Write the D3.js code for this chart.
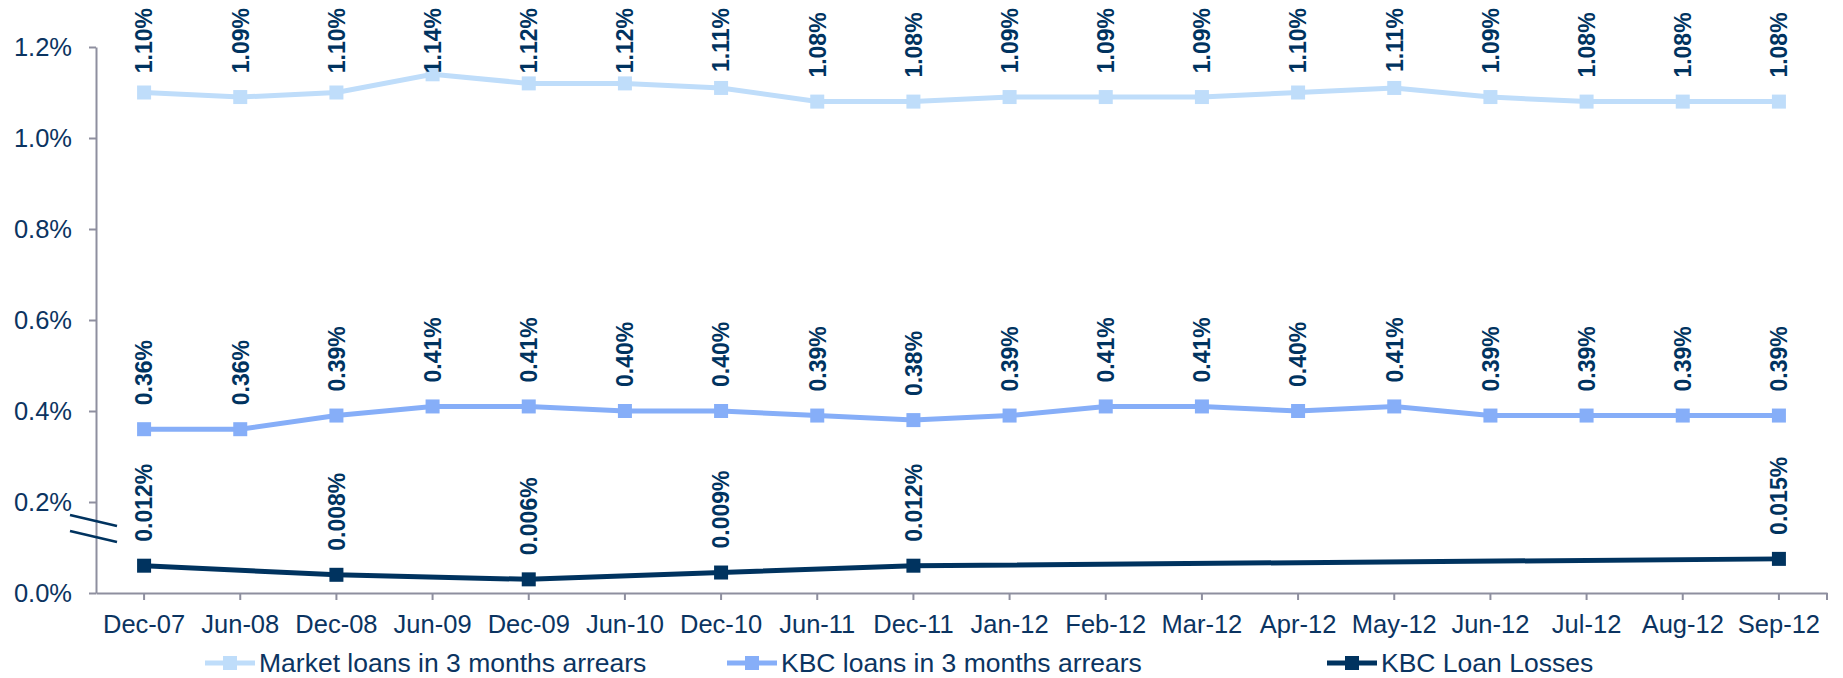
<!DOCTYPE html>
<html>
<head>
<meta charset="utf-8">
<script src="https://cdn.jsdelivr.net/npm/d3@7"></script>
<style>
  body { margin: 0; background: #fff; }
  svg { display: block; font-family: "Liberation Sans", Arial, sans-serif; }
</style>
</head>
<body>
<script>
// categories (x axis)
const months = ["Dec-07", "Jun-08", "Dec-08", "Jun-09", "Dec-09", "Jun-10", "Dec-10", "Jun-11", "Dec-11",
  "Jan-12", "Feb-12", "Mar-12", "Apr-12", "May-12", "Jun-12", "Jul-12", "Aug-12", "Sep-12"];

// series values, in %
const marketArrears = [1.10, 1.09, 1.10, 1.14, 1.12, 1.12, 1.11, 1.08, 1.08, 1.09, 1.09, 1.09, 1.10, 1.11, 1.09, 1.08, 1.08, 1.08];
const kbcArrears = [0.36, 0.36, 0.39, 0.41, 0.41, 0.40, 0.40, 0.39, 0.38, 0.39, 0.41, 0.41, 0.40, 0.41, 0.39, 0.39, 0.39, 0.39];
const kbcLosses = [0.012, null, 0.008, null, 0.006, null, 0.009, null, 0.012, null, null, null, null, null, null, null, null, 0.015];

// loan losses sit on a magnified part of the axis (below the break)
const lossMagnify = 5;

const yTicks = [0, 0.2, 0.4, 0.6, 0.8, 1.0, 1.2];

const seriesNames = ["Market loans in 3 months arrears", "KBC loans in 3 months arrears", "KBC Loan Losses"];
const seriesColors = ["#BFDDFA", "#86AEF8", "#00335F"];

function main() {
  const svgWidth = 1843, svgHeight = 678;
  const left = 96, right = 1827, top = 47, bottom = 593;
  const textColor = "#0B3461";
  const axisColor = "#8E8F9F";

  const svg = d3.select("body").append("svg")
    .attr("width", svgWidth)
    .attr("height", svgHeight);

  const x = d3.scaleBand().domain(months).range([left, right]);
  const cx = d => x(d) + x.bandwidth() / 2;
  const y = d3.scaleLinear().domain([0, 1.2]).range([bottom, top]);

  // y axis
  const yAxis = svg.append("g")
    .attr("transform", `translate(${left},0)`)
    .call(d3.axisLeft(y).tickValues(yTicks).tickFormat(d => d.toFixed(1) + "%")
      .tickSize(7).tickSizeOuter(0).tickPadding(17));
  yAxis.select(".domain").attr("stroke", axisColor).attr("stroke-width", 2);
  yAxis.selectAll(".tick line").attr("stroke", axisColor).attr("stroke-width", 2);
  yAxis.selectAll(".tick text").attr("fill", textColor).style("font-size", "25.5px").attr("font-family", null);

  // x axis
  const xAxis = svg.append("g")
    .attr("transform", `translate(0,${bottom})`)
    .call(d3.axisBottom(x).tickSize(7).tickSizeOuter(0).tickPadding(15));
  xAxis.select(".domain").attr("stroke", axisColor).attr("stroke-width", 2);
  xAxis.selectAll(".tick line").attr("stroke", axisColor).attr("stroke-width", 2);
  xAxis.selectAll(".tick text").attr("fill", textColor).style("font-size", "25.5px").attr("font-family", null);
  xAxis.append("line")
    .attr("x1", right).attr("x2", right).attr("y1", 0).attr("y2", 7)
    .attr("stroke", axisColor).attr("stroke-width", 2);

  // axis break marks
  const brk = svg.append("g").attr("stroke", "#00335F").attr("stroke-width", 2.5);
  [[515, 526], [531, 542]].forEach(([a, b]) => {
    brk.append("line").attr("x1", 70).attr("y1", a).attr("x2", 117).attr("y2", b);
  });

  const series = [
    { vals: marketArrears, fmt: v => v.toFixed(2) + "%", scale: 1 },
    { vals: kbcArrears, fmt: v => v.toFixed(2) + "%", scale: 1 },
    { vals: kbcLosses, fmt: v => v.toFixed(3) + "%", scale: lossMagnify }
  ];

  const line = d3.line().x(d => cx(d.m)).y(d => d.y);

  series.forEach((s, i) => {
    const pts = s.vals.map((v, j) => ({ m: months[j], v: v }))
      .filter(d => d.v !== null)
      .map(d => ({ m: d.m, v: d.v, y: y(d.v * s.scale) }));

    svg.append("path")
      .datum(pts)
      .attr("d", line)
      .attr("fill", "none")
      .attr("stroke", seriesColors[i])
      .attr("stroke-width", 5);

    svg.selectAll(null)
      .data(pts)
      .enter()
      .append("rect")
      .attr("x", d => cx(d.m) - 7)
      .attr("y", d => d.y - 7)
      .attr("width", 14)
      .attr("height", 14)
      .attr("fill", seriesColors[i]);

    // data labels, rotated, kept inside the top of the chart
    svg.selectAll(null)
      .data(pts)
      .enter()
      .append("text")
      .attr("fill", "#00335F")
      .style("font-size", "23px")
      .style("font-weight", "bold")
      .attr("dy", "0.36em")
      .text(d => s.fmt(d.v))
      .each(function (d) {
        const len = this.getComputedTextLength();
        const yb = Math.max(d.y - 24, 8 + len);
        d3.select(this).attr("transform", `translate(${cx(d.m)},${yb}) rotate(-90)`);
      });
  });

  // legend
  const legendX = [205, 727, 1327];
  const leg = svg.append("g");
  seriesNames.forEach((name, i) => {
    const g = leg.append("g").attr("transform", `translate(${legendX[i]},663)`);
    g.append("line").attr("x1", 0).attr("x2", 50).attr("stroke", seriesColors[i]).attr("stroke-width", 5);
    g.append("rect").attr("x", 18).attr("y", -7).attr("width", 14).attr("height", 14).attr("fill", seriesColors[i]);
    g.append("text")
      .attr("x", 54)
      .attr("dy", "0.34em")
      .attr("fill", textColor)
      .style("font-size", "26.5px")
      .text(name);
  });
}
main();
</script>
</body>
</html>
